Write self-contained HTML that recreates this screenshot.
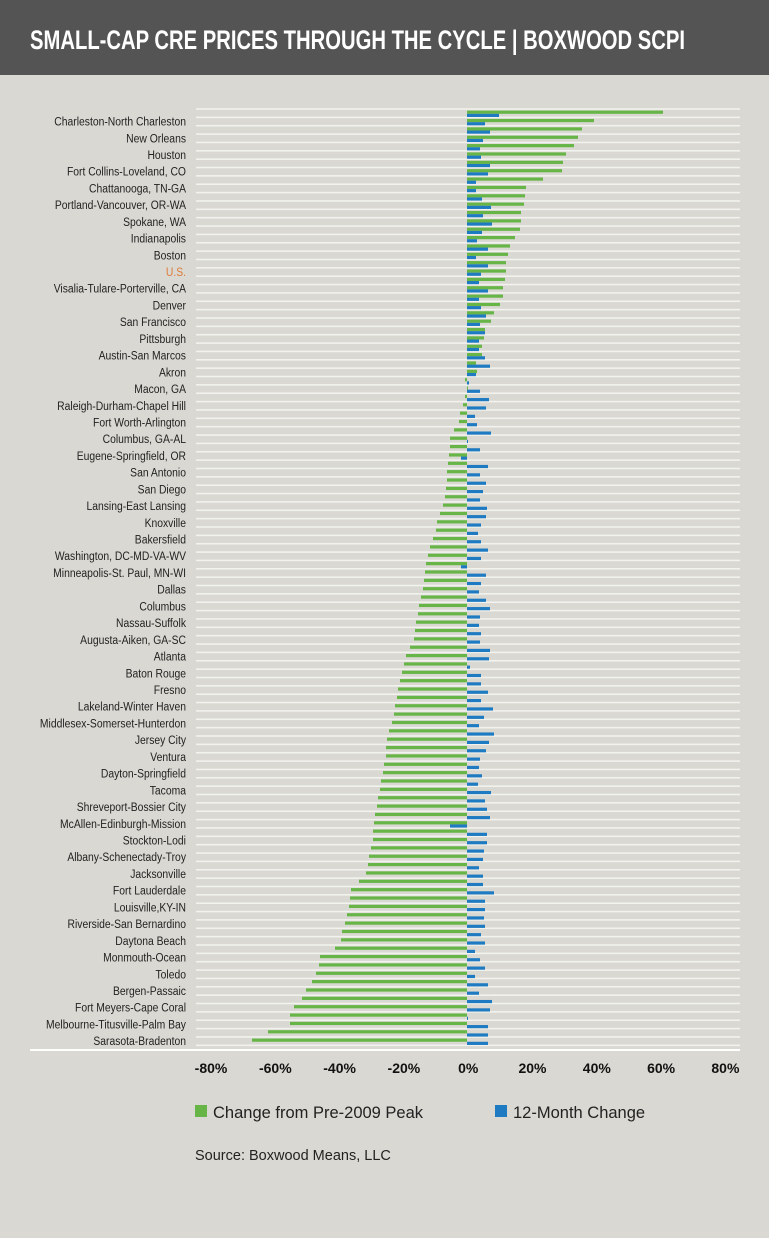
<!DOCTYPE html>
<html><head><meta charset="utf-8"><style>
body{margin:0;width:769px;height:1238px;background:#d9d8d2;overflow:hidden;font-family:"Liberation Sans Narrow","Liberation Sans",sans-serif}
#t{position:absolute;left:0;top:0;width:769px;height:75px;background:#545454}
</style></head><body>
<div id="t"></div>
<svg id="s" width="769" height="1238" style="position:absolute;left:0;top:0" xmlns="http://www.w3.org/2000/svg">
<text x="30" y="49" fill="#fff" font-family="Liberation Sans Narrow, Liberation Sans, sans-serif" font-weight="bold" font-size="27" textLength="655" lengthAdjust="spacingAndGlyphs">SMALL-CAP CRE PRICES THROUGH THE CYCLE | BOXWOOD SCPI</text>
</svg>
<script>
var names=["Charleston-North Charleston","New Orleans","Houston","Fort Collins-Loveland, CO","Chattanooga, TN-GA","Portland-Vancouver, OR-WA","Spokane, WA","Indianapolis","Boston","U.S.","Visalia-Tulare-Porterville, CA","Denver","San Francisco","Pittsburgh","Austin-San Marcos","Akron","Macon, GA","Raleigh-Durham-Chapel Hill","Fort Worth-Arlington","Columbus, GA-AL","Eugene-Springfield, OR","San Antonio","San Diego","Lansing-East Lansing","Knoxville","Bakersfield","Washington, DC-MD-VA-WV","Minneapolis-St. Paul, MN-WI","Dallas","Columbus","Nassau-Suffolk","Augusta-Aiken, GA-SC","Atlanta","Baton Rouge","Fresno","Lakeland-Winter Haven","Middlesex-Somerset-Hunterdon","Jersey City","Ventura","Dayton-Springfield","Tacoma","Shreveport-Bossier City","McAllen-Edinburgh-Mission","Stockton-Lodi","Albany-Schenectady-Troy","Jacksonville","Fort Lauderdale","Louisville,KY-IN","Riverside-San Bernardino","Daytona Beach","Monmouth-Ocean","Toledo","Bergen-Passaic","Fort Meyers-Cape Coral","Melbourne-Titusville-Palm Bay","Sarasota-Bradenton"];
var go=[594,578,566,562,526,524,521,515,508,506,503,500,491,484,482,477,467,463,459,450,449,447,446,443,437,433,428,425,423,419,416,414,406,402,398,395,392,387,386,383,380,377,374,373,369,366,351,349,345,341,320,316,306,294,290,252];
var ge=[663,582,574,563,543,525,521,520,510,506,505,503,494,485,482,476,465,465,460,454,450,448,447,445,440,436,430,426,424,421,418,415,410,404,400,397,394,389,386,384,381,378,375,373,371,368,359,350,347,342,335,319,312,302,290,268];
var bl=[32,18,23,16,13,14,23,21,9,9,15,24,16,25,15,10,21,9,21,14,12,21,12,14,19,13,18,12,12,18,23,9,2,13,22,19,8,10,24,1,13,-6,21,13,19,16,13,20,19,14,11,14,21,14,-6,19,14,12,19,23,13,12,14,13,23,22,3,14,14,21,14,26,17,12,27,22,19,13,12,15,11,24,18,20,23,-17,20,20,17,16,12,16,16,27,18,18,17,18,14,18,8,13,18,8,21,12,25,23,1,21,21,21];
var z=467,h=8.36,y0=109,o='';
for(var i=0;i<=112;i++){var y=y0+i*h;o+='<rect x="196" y="'+(y-0.8)+'" width="544" height="1.6" fill="#f2f2ee"/>';}
for(var i=0;i<112;i++){var y=y0+i*h,k=i>>1,g=(i%2)?go[k]:ge[k];
o+='<rect x="'+Math.min(g,z)+'" y="'+(y+1.6)+'" width="'+Math.max(1,Math.abs(g-z))+'" height="3.2" fill="#66b546"/>';
var b=bl[i];o+='<rect x="'+(b<0?z+b:z)+'" y="'+(y+4.8)+'" width="'+Math.max(1,Math.abs(b))+'" height="3.2" fill="#1f7bc1"/>';
if(i%2){o+='<text x="186" y="'+(y+h/2+4)+'" text-anchor="end" font-size="11.5" transform="translate(186 0) scale(0.9 1) translate(-186 0)" fill="'+(k==9?'#e07b39':'#222')+'">'+names[k]+'</text>';}}
o+='<rect x="30" y="1049" width="710" height="2" fill="#fff"/>';
var t=['-80%','-60%','-40%','-20%','0%','20%','40%','60%','80%'];
for(var j=0;j<9;j++)o+='<text x="'+(211+j*64.3)+'" y="1073" text-anchor="middle" font-weight="bold" font-size="14" fill="#111">'+t[j]+'</text>';
o+='<rect x="195" y="1105" width="12" height="12" fill="#66b546"/><text x="213" y="1118" font-family="Liberation Sans, sans-serif" font-size="16.5" fill="#222">Change from Pre-2009 Peak</text>';
o+='<rect x="495" y="1105" width="12" height="12" fill="#1f7bc1"/><text x="513" y="1118" font-family="Liberation Sans, sans-serif" font-size="16.5" fill="#222">12-Month Change</text>';
o+='<text x="195" y="1160" font-family="Liberation Sans, sans-serif" font-size="14.5" fill="#222">Source: Boxwood Means, LLC</text>';
document.getElementById('s').insertAdjacentHTML('beforeend',o);
</script>
</body></html>
